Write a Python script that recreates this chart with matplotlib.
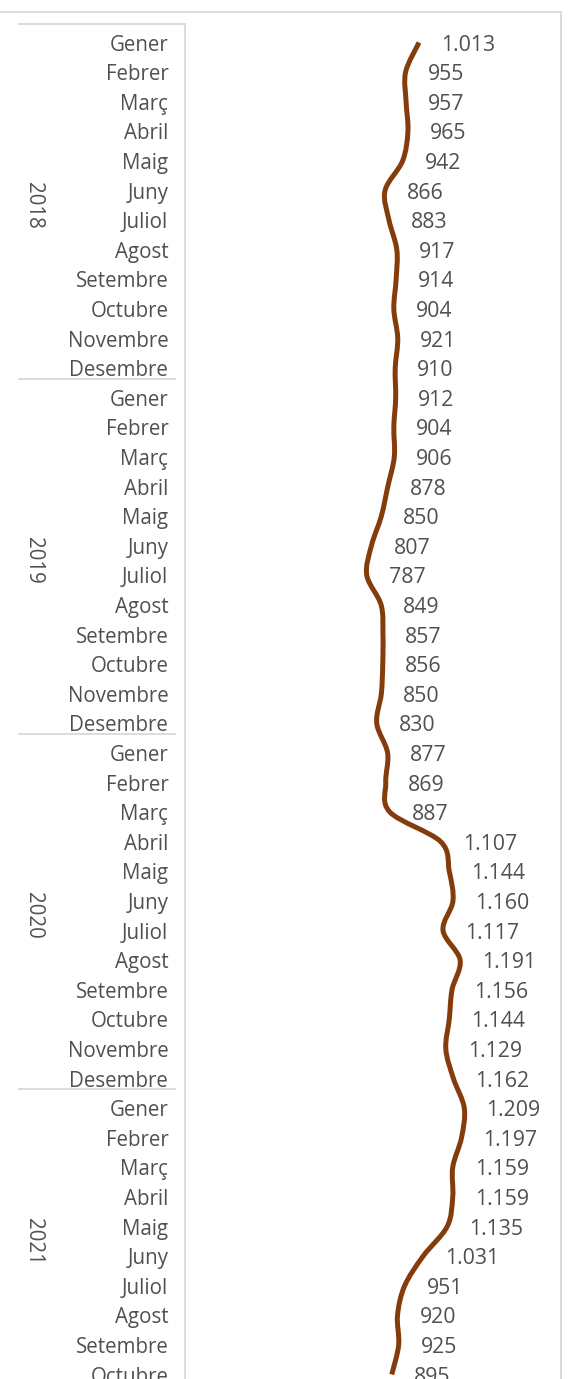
import matplotlib
matplotlib.use("Agg")
import matplotlib.pyplot as plt
from matplotlib.path import Path
from matplotlib.patches import PathPatch, Rectangle
from matplotlib.lines import Line2D
import matplotlib.transforms as mtransforms

# ---------------- data ----------------
years = ["2018", "2019", "2020", "2021"]
months = ["Gener", "Febrer", "Març", "Abril", "Maig", "Juny", "Juliol",
          "Agost", "Setembre", "Octubre", "Novembre", "Desembre"]
values_2018 = [1013, 955, 957, 965, 942, 866, 883, 917, 914, 904, 921, 910]
values_2019 = [912, 904, 906, 878, 850, 807, 787, 849, 857, 856, 850, 830]
values_2020 = [877, 869, 887, 1107, 1144, 1160, 1117, 1191, 1156, 1144, 1129, 1162]
values_2021 = [1209, 1197, 1159, 1159, 1135, 1031, 951, 920, 925, 895]

values = values_2018 + values_2019 + values_2020 + values_2021
cat_labels = months * 3 + months[:len(values_2021)]
group_sizes = [len(values_2018), len(values_2019), len(values_2020), len(values_2021)]

# ---------------- style ----------------
W, H, DPI = 573, 1379, 100
TEXT = "#505050"
GRID = "#D9D9D9"
LINE = "#843C0C"
FONT = "Open Sans"
FS = 14.8
FS_NUM = 15.3

fig = plt.figure(figsize=(W / DPI, H / DPI), dpi=DPI)
fig.patch.set_facecolor("white")

ax_left, ax_right, ax_top = 185, 561, 24.3
ax = fig.add_axes([ax_left / W, 0, (ax_right - ax_left) / W, 1 - ax_top / H])

row_px = 29.6
first_center = 42.5
n = len(values)
y_top = (ax_top - first_center) / row_px
y_bot = (H - first_center) / row_px
ax.set_ylim(y_bot, y_top)
px_per_unit = 0.231
ax.set_xlim(0, (ax_right - ax_left) / px_per_unit)

for s in ["top", "right", "bottom"]:
    ax.spines[s].set_visible(False)
ax.spines["left"].set_color(GRID)
ax.spines["left"].set_linewidth(1.3)
ax.set_xticks([])

ys = list(range(n))
ax.set_yticks(ys)
ax.set_yticklabels(cat_labels, fontfamily=FONT, fontsize=FS, color=TEXT)
ax.tick_params(axis="y", length=0, pad=12.0)

# ---------------- smoothed line (Catmull-Rom -> cubic Bezier) ----------------
pts = list(zip(values, ys))
verts = [pts[0]]
codes = [Path.MOVETO]
for i in range(n - 1):
    p0 = pts[i - 1] if i > 0 else pts[i]
    p1 = pts[i]
    p2 = pts[i + 1]
    p3 = pts[i + 2] if i + 2 < n else pts[i + 1]
    c1 = (p1[0] + (p2[0] - p0[0]) / 6, p1[1] + (p2[1] - p0[1]) / 6)
    c2 = (p2[0] - (p3[0] - p1[0]) / 6, p2[1] - (p3[1] - p1[1]) / 6)
    verts += [c1, c2, p2]
    codes += [Path.CURVE4] * 3
ax.add_patch(PathPatch(Path(verts, codes), facecolor="none", edgecolor=LINE,
                       linewidth=3.6, capstyle="butt", joinstyle="round",
                       clip_on=False))

# ---------------- data labels ----------------
def fmt(v):
    return f"{v:,}".replace(",", ".")

for v, y in zip(values, ys):
    ax.annotate(fmt(v), (v, y), xytext=(22, 0), textcoords="offset pixels",
                ha="left", va="center_baseline", fontfamily=FONT, fontsize=FS_NUM,
                color=TEXT, annotation_clip=False)

# ---------------- multi-level category axis ----------------
bt = mtransforms.blended_transform_factory(fig.transFigure, ax.transData)
start = 0
boundary_off = -0.63
ax.add_line(Line2D([19 / W, ax_left / W], [y_top, y_top], transform=bt,
                   color=GRID, lw=1.3, clip_on=False))
for yr, size in zip(years, group_sizes):
    center = start + (size - 1) / 2
    ax.text(33 / W, center, yr, transform=bt, rotation=270, ha="center",
            va="center", fontfamily=FONT, fontsize=FS, color=TEXT, clip_on=False)
    end = start + size
    if end < n:
        yb = end + boundary_off
        ax.add_line(Line2D([19 / W, 175 / W], [yb, yb], transform=bt,
                           color=GRID, lw=1.3, clip_on=False))
    start = end

# ---------------- chart area border ----------------
fig.patches.append(Rectangle((-0.02, -0.02), 561 / W + 0.02, 1 - 12 / H + 0.02,
                             transform=fig.transFigure, facecolor="none",
                             edgecolor=GRID, linewidth=1.4, zorder=0))

fig.savefig("out.png", dpi=DPI, facecolor="white")
